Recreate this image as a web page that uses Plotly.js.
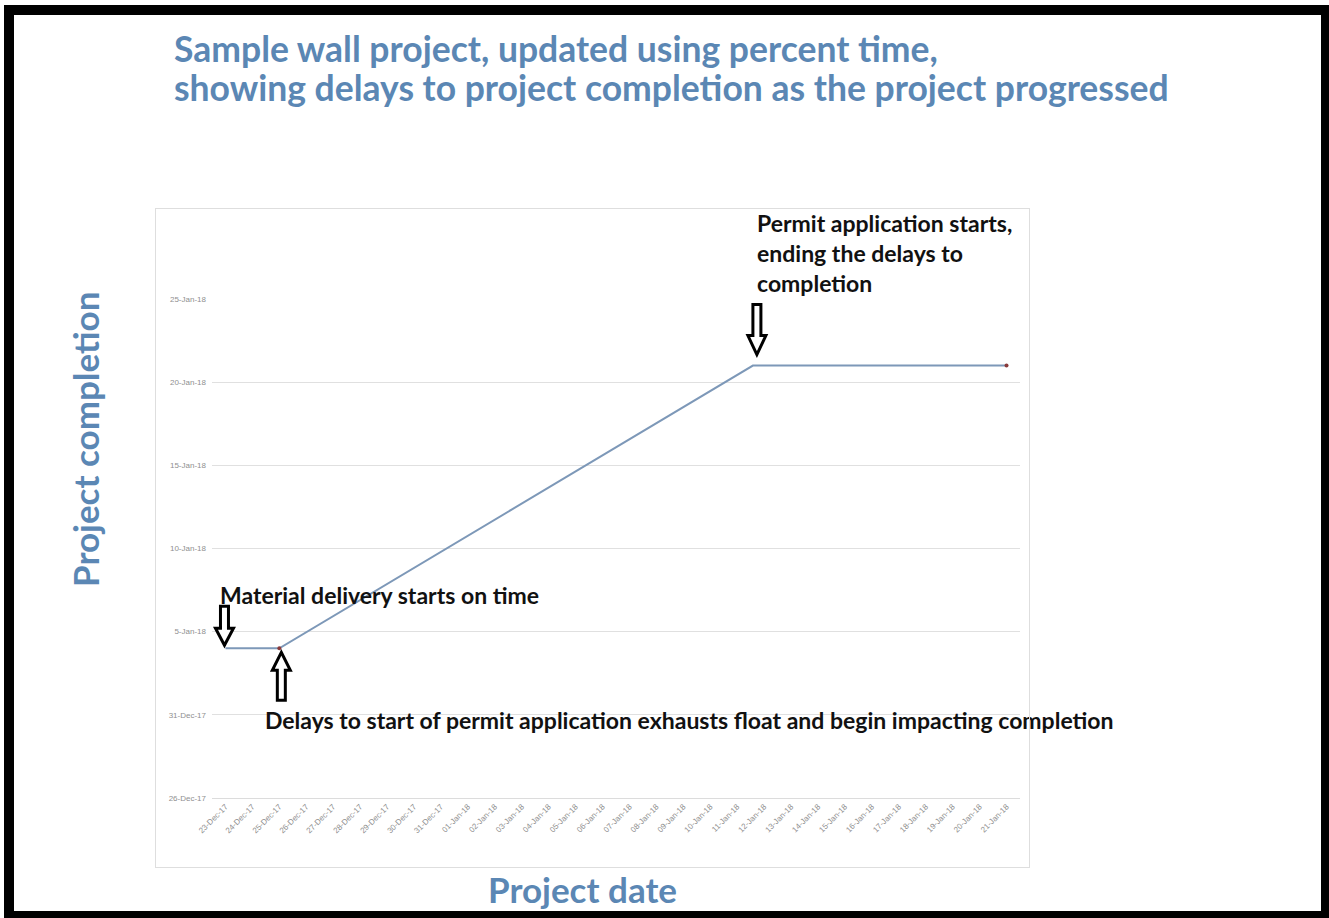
<!DOCTYPE html>
<html>
<head>
<meta charset="utf-8">
<script src="https://cdn.plot.ly/plotly-3.0.1.min.js"></script>
<style>
  html, body { margin: 0; padding: 0; background: #ffffff; }
  #chart { position: absolute; left: 0; top: 0; width: 1329px; height: 918px; }
  #frame {
    position: absolute; left: 4px; top: 5px; width: 1325px; height: 913px;
    box-sizing: border-box; pointer-events: none;
    border-style: solid; border-color: #000000;
    border-width: 10px 8px 7px 10px;
  }
  #chartArea {
    position: absolute; left: 155px; top: 208px; width: 875px; height: 660px;
    box-sizing: border-box; border: 1px solid #dedede; pointer-events: none;
  }
</style>
</head>
<body>
<div id="chart"></div>
<div id="chartArea"></div>
<div id="frame"></div>
<script>
// Daily project dates labelled along the horizontal axis
const projectDates = [
  '2017-12-23', '2017-12-24', '2017-12-25', '2017-12-26', '2017-12-27', '2017-12-28',
  '2017-12-29', '2017-12-30', '2017-12-31', '2018-01-01', '2018-01-02', '2018-01-03',
  '2018-01-04', '2018-01-05', '2018-01-06', '2018-01-07', '2018-01-08', '2018-01-09',
  '2018-01-10', '2018-01-11', '2018-01-12', '2018-01-13', '2018-01-14', '2018-01-15',
  '2018-01-16', '2018-01-17', '2018-01-18', '2018-01-19', '2018-01-20', '2018-01-21'
];

// Forecast completion at each update where the trend changes
const updateDates = ['2017-12-23', '2017-12-25', '2018-01-11 14:00', '2018-01-21'];
const completionDates = ['2018-01-04', '2018-01-04', '2018-01-21', '2018-01-21'];

// Completion-axis range and tick spacing (days)
const completionRange = ['2017-12-26', '2018-01-25'];
const completionTickDays = 5;

const DAY = 86400000;
const titleBlue = '#5b87b4';
const blueFont = { family: 'Lato, "Open Sans", sans-serif', size: 35, color: titleBlue };
const titleFont = { family: 'Lato, "Open Sans", sans-serif', size: 35.5, color: titleBlue };
const noteFont = { family: 'Lato, "Open Sans", sans-serif', size: 23, color: '#111111' };
const tickFont = { family: 'Liberation Sans, Arial, sans-serif', size: 8, color: '#8f8f8f' };

// plot area in page pixels: x 212..1020, y 299..798
const px = (X) => (X - 212) / 808;
const py = (Y) => (798 - Y) / 499;

// Hollow block arrow, drawn in pixels around a data point (y positive = up)
function blockArrow(x, y, dx, tip, base, tail, dir) {
  const p = [
    [0, tip], [-9, base], [-4, base], [-4, tail], [4, tail], [4, base], [9, base]
  ].map(([ax, ay]) => (ax + dx) + ',' + (dir * ay)).join(' L');
  return {
    type: 'path', xref: 'x', yref: 'y',
    xsizemode: 'pixel', ysizemode: 'pixel', xanchor: x, yanchor: y,
    path: 'M' + p + ' Z',
    line: { color: '#000000', width: 3 }, fillcolor: '#ffffff', layer: 'above'
  };
}

const traces = [
  {
    type: 'scatter', mode: 'lines',
    x: updateDates, y: completionDates,
    line: { color: '#7d98b8', width: 2 },
    showlegend: false
  },
  {
    type: 'scatter', mode: 'markers',
    x: [updateDates[1], updateDates[3]], y: [completionDates[1], completionDates[3]],
    marker: { color: '#8a3a3a', size: 4 },
    hoverinfo: 'skip', showlegend: false
  }
];

const layout = {
  width: 1329, height: 918,
  margin: { l: 212, r: 309, t: 299, b: 120 },
  paper_bgcolor: 'rgba(0,0,0,0)', plot_bgcolor: 'rgba(0,0,0,0)',
  showlegend: false,
  xaxis: {
    type: 'date',
    range: [new Date(projectDates[0] + 'T00:00:00Z').getTime() - DAY / 2,
            new Date(projectDates[projectDates.length - 1] + 'T00:00:00Z').getTime() + DAY / 2],
    tickmode: 'array', tickvals: projectDates,
    tickformat: '%d-%b-%y',
    tickangle: -45,
    tickfont: tickFont,
    showgrid: false, zeroline: false,
    showline: true, linecolor: '#dcdcdc', linewidth: 1,
    ticks: '', automargin: false
  },
  yaxis: {
    type: 'date',
    range: completionRange,
    tick0: completionRange[0], dtick: completionTickDays * DAY,
    tickformat: '%-d-%b-%y',
    tickfont: tickFont,
    showgrid: true, gridcolor: '#e0e0e0', gridwidth: 1,
    zeroline: false, showline: false, ticks: '', ticklabelstandoff: 5,
    automargin: false
  },
  annotations: [
    {
      text: '<b>Sample wall project, updated using percent time,</b>',
      xref: 'paper', yref: 'paper', x: px(172), y: py(49),
      xanchor: 'left', yanchor: 'middle', showarrow: false, font: titleFont
    },
    {
      text: '<b>showing delays to project completion as the project progressed</b>',
      xref: 'paper', yref: 'paper', x: px(172), y: py(87),
      xanchor: 'left', yanchor: 'middle', showarrow: false, font: titleFont
    },
    {
      text: '<b>Project completion</b>', textangle: -90,
      xref: 'paper', yref: 'paper', x: px(85), y: py(440),
      xanchor: 'center', yanchor: 'middle', showarrow: false, font: blueFont
    },
    {
      text: '<b>Project date</b>',
      xref: 'paper', yref: 'paper', x: px(582), y: py(889),
      xanchor: 'center', yanchor: 'middle', showarrow: false, font: blueFont
    },
    {
      text: '<b>Material delivery starts on time</b>',
      x: updateDates[0], y: completionDates[0], xanchor: 'left', yanchor: 'middle',
      xshift: -7, yshift: 53, showarrow: false, font: noteFont
    },
    {
      text: '<b>Delays to start of permit application exhausts float and begin impacting completion</b>',
      x: updateDates[1], y: completionDates[1], xanchor: 'left', yanchor: 'middle',
      xshift: -16, yshift: -72, showarrow: false, font: noteFont
    },
    {
      text: '<b>Permit application starts,<br>ending the delays to<br>completion</b>',
      x: updateDates[2], y: completionDates[2], xanchor: 'left', yanchor: 'middle', align: 'left',
      xshift: 2, yshift: 113, showarrow: false, font: noteFont
    }
  ],
  shapes: [
    blockArrow(updateDates[0], completionDates[0], -1, 3, 20, 42, 1),
    blockArrow(updateDates[1], completionDates[1], 2, 4, 22, 52, -1),
    blockArrow(updateDates[2], completionDates[2], 4, 11, 30, 61, 1)
  ]
};

Plotly.newPlot('chart', traces, layout, { displayModeBar: false, staticPlot: true });
</script>
</body>
</html>
